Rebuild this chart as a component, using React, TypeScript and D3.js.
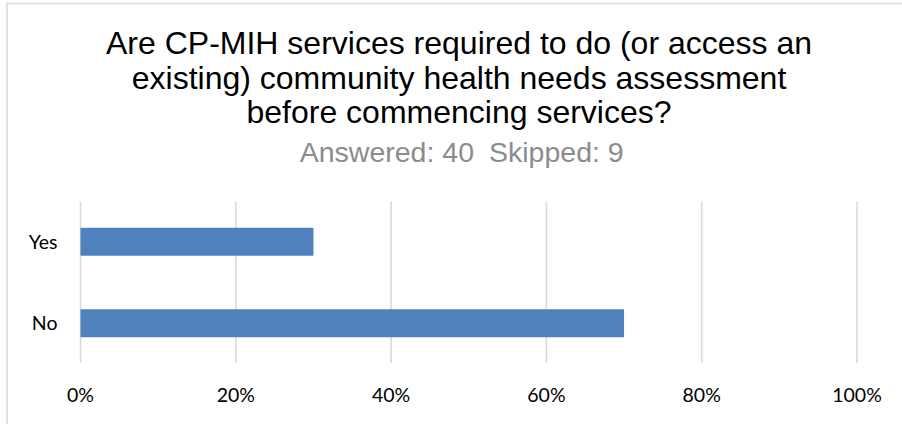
import React from "react";
import * as d3 from "d3";

const categories = ["Yes", "No"];
const values = [0.3, 0.7];
const xTicks = [0, 0.2, 0.4, 0.6, 0.8, 1.0];
const titleLines = [
  "Are CP-MIH services required to do (or access an",
  "existing) community health needs assessment",
  "before commencing services?",
];
const answered = "Answered: 40";
const skipped = "Skipped: 9";

const W = 902;
const H = 424;

export default function App() {
  const x = d3.scaleLinear().domain([0, 1]).range([80.5, 857]);
  const y = d3
    .scaleBand<string>()
    .domain(categories)
    .range([201, 364])
    .paddingInner(0.657)
    .paddingOuter(0.3285);
  const fmt = d3.format(".0%");
  const tickFont = "Lato, 'Open Sans', sans-serif";
  const titleFont = "'Liberation Sans', Arial, sans-serif";
  const cx = 459;

  return (
    <svg
      width={W}
      height={H}
      style={{ position: "absolute", left: 0, top: 0, display: "block", background: "#fff" }}
    >
      <rect x={7} y={3.5} width={W + 10} height={H + 10} fill="#fff" stroke="#d9d9d9" strokeWidth={1.5} />
      {titleLines.map((t, i) => (
        <text
          key={i}
          x={cx}
          y={54 + i * 34.5}
          textAnchor="middle"
          fontFamily={titleFont}
          fontSize={32}
          fill="#000"
        >
          {t}
        </text>
      ))}
      <text x={474} y={162} textAnchor="end" fontFamily={titleFont} fontSize={28.5} fill="#8c8c8c">
        {answered}
      </text>
      <text x={489} y={162} textAnchor="start" fontFamily={titleFont} fontSize={28.5} fill="#8c8c8c">
        {skipped}
      </text>
      {xTicks.map((t) => (
        <line
          key={"g" + t}
          x1={x(t)}
          x2={x(t)}
          y1={201.5}
          y2={363}
          stroke="#d9d9d9"
          strokeWidth={1.5}
        />
      ))}
      {categories.map((c, i) => (
        <rect
          key={c}
          x={x(0)}
          y={y(c)!}
          width={x(values[i]) - x(0)}
          height={y.bandwidth()}
          fill="#4f81bd"
        />
      ))}
      {categories.map((c) => (
        <text
          key={"l" + c}
          x={57.5}
          y={y(c)! + y.bandwidth() / 2 + 7}
          textAnchor="end"
          fontFamily={tickFont}
          fontSize={19.5}
          fill="#000"
        >
          {c}
        </text>
      ))}
      {xTicks.map((t) => (
        <text
          key={"t" + t}
          x={x(t)}
          y={402.3}
          textAnchor="middle"
          fontFamily={tickFont}
          fontSize={19.5}
          fill="#000"
        >
          {fmt(t)}
        </text>
      ))}
    </svg>
  );
}
